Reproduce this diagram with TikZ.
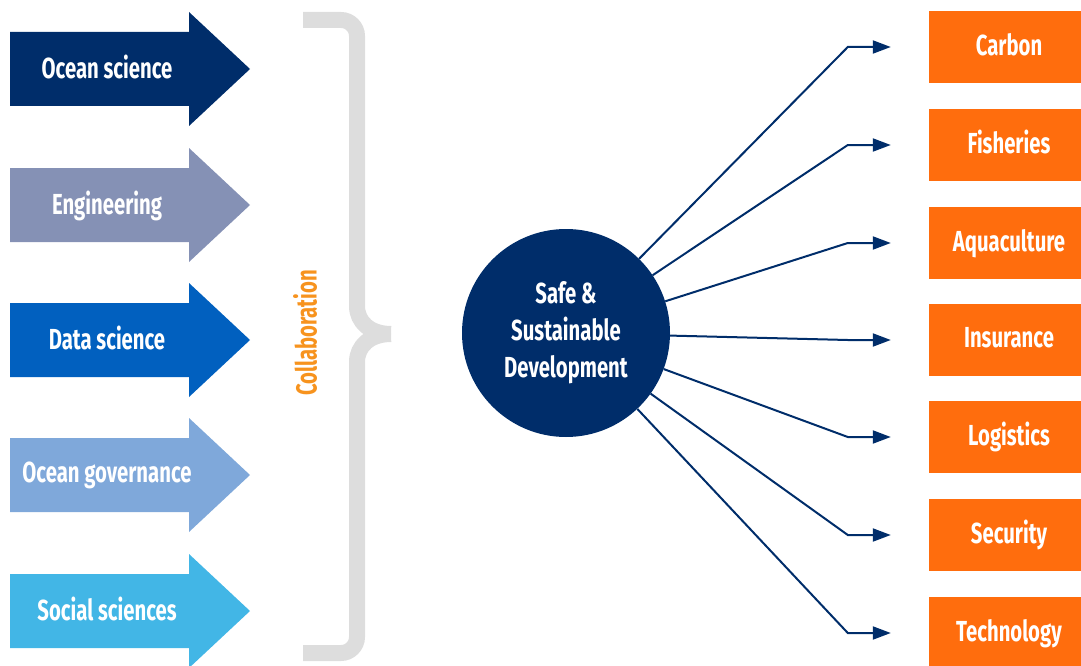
\documentclass[tikz,border=0pt]{standalone}
\usepackage{fontspec}
\setmainfont{Fira Sans}[FakeStretch=0.7]
\usetikzlibrary{positioning,arrows.meta}

\definecolor{navy}{HTML}{002D6A}
\definecolor{engcol}{HTML}{8591B5}
\definecolor{datacol}{HTML}{0160BF}
\definecolor{govcol}{HTML}{7FA8DA}
\definecolor{socialcol}{HTML}{42B6E6}
\definecolor{targetcol}{HTML}{FF6D0D}
\definecolor{collabcol}{HTML}{F7931E}
\definecolor{bracecol}{HTML}{DDDDDD}

% filled block arrow, #1 colour, #2 centre line
\newcommand{\discarrow}[2]{\fill[#1] (10,{#2-37}) -- (189,{#2-37}) -- (189,{#2-57}) -- (250,#2) -- (189,{#2+57}) -- (189,{#2+37}) -- (10,{#2+37}) -- cycle;}

\begin{document}
\begin{tikzpicture}[x=1pt,y=-1pt,
    label font/.style={font=\bfseries\fontsize{29}{37}\selectfont},
    discipline/.style={label font,text=white,inner sep=0pt,text depth=5pt},
    hub/.style={circle,fill=navy,minimum size=208pt,inner sep=0pt,label font,text=white,align=center},
    target/.style={rectangle,fill=targetcol,minimum width=160pt,minimum height=72pt,inner sep=0pt,text depth=6pt,label font,text=white},
    link/.style={draw=navy,line width=2pt,-{Triangle[length=18pt,width=13pt]},shorten >=38pt},
    brace line/.style={draw=bracecol,line width=16pt}]
            \useasboundingbox (0,0) rectangle (1081,666);

            \discarrow{navy}{69}
            \discarrow{engcol}{205}
            \discarrow{datacol}{340}
            \discarrow{govcol}{475}
            \discarrow{socialcol}{611}

            \node[discipline] (ocean) at (107,69) {Ocean science};
            \node[discipline] (eng) at (107,205) {Engineering};
            \node[discipline] (data) at (107,340) {Data science};
            \node[discipline] (gov) at (107,475) {Ocean governance};
            \node[discipline] (social) at (107,611) {Social sciences};

            % brace
            \path[brace line,rounded corners=16pt] (303,20) -- (357,20) -- (357,290) .. controls (357,322) and (370,334) .. (391,334);
            \path[brace line,rounded corners=16pt] (391,334) .. controls (370,334) and (357,346) .. (357,378) -- (357,653) -- (303,653);
            \node[label font,text=collabcol,rotate=90,inner sep=0pt] (collab) at (305,333) {Collaboration};

            \node[hub] (hub) at (566,333) {Safe \&\\Sustainable\\Development};

            \node[target] (carbon) at (1009,47) {Carbon};
            \node[target] (fish) at (1009,145) {Fisheries};
            \node[target] (aqua) at (1009,243) {Aquaculture};
            \node[target] (insur) at (1009,340) {Insurance};
            \node[target] (logis) at (1009,437) {Logistics};
            \node[target] (secur) at (1009,535) {Security};
            \node[target] (tech) at (1009,633) {Technology};

            \draw[link] (hub) -- ([xshift=-81pt]carbon.west) -- (carbon.west);
            \draw[link] (hub) -- ([xshift=-81pt]fish.west) -- (fish.west);
            \draw[link] (hub) -- ([xshift=-81pt]aqua.west) -- (aqua.west);
            \draw[link] (hub) -- ([xshift=-81pt]insur.west) -- (insur.west);
            \draw[link] (hub) -- ([xshift=-81pt]logis.west) -- (logis.west);
            \draw[link] (hub) -- ([xshift=-81pt]secur.west) -- (secur.west);
            \draw[link] (hub) -- ([xshift=-81pt]tech.west) -- (tech.west);
        \end{tikzpicture}
\end{document}
